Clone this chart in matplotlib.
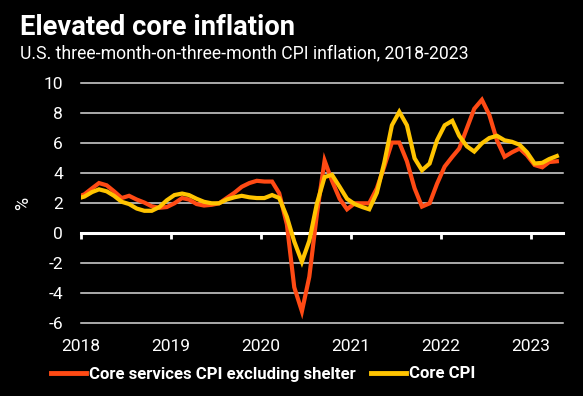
import matplotlib
matplotlib.use("Agg")
import matplotlib.pyplot as plt
from matplotlib.lines import Line2D
import pandas as pd

# Monthly observations, Dec 2017 - Apr 2023 (plotted mid-month)
months = pd.date_range("2017-12-01", "2023-04-01", freq="MS") + pd.Timedelta(days=14)

core_services_ex_shelter = [
    2.4, 2.6, 3.0, 3.35, 3.2, 2.8, 2.35, 2.5, 2.25, 2.05, 1.8, 1.7, 1.75,
    2.0, 2.35, 2.25, 1.95, 1.85, 1.9, 2.0, 2.35, 2.7, 3.1, 3.35, 3.5,
    3.45, 3.45, 2.67, 0.6, -3.6, -5.2, -2.9, 1.3, 4.85, 3.5, 2.3, 1.6,
    2.0, 2.0, 2.0, 3.0, 4.45, 6.05, 6.05, 4.8, 3.0, 1.78, 2.0, 3.3,
    4.45, 5.1, 5.65, 7.0, 8.3, 8.9, 7.9, 6.2, 5.1, 5.4, 5.65, 5.2,
    4.55, 4.4, 4.75, 4.8,
]
core_cpi = [
    2.3, 2.45, 2.75, 2.93, 2.8, 2.5, 2.1, 1.95, 1.65, 1.5, 1.5, 1.75, 2.2,
    2.55, 2.65, 2.55, 2.3, 2.1, 2.0, 2.0, 2.25, 2.4, 2.5, 2.4, 2.35,
    2.35, 2.55, 2.35, 1.1, -0.55, -1.9, -0.5, 2.0, 3.75, 3.9, 3.1, 2.3,
    1.95, 1.75, 1.6, 2.7, 4.7, 7.2, 8.1, 7.2, 5.0, 4.2, 4.65, 6.2,
    7.2, 7.5, 6.5, 5.8, 5.45, 6.0, 6.35, 6.5, 6.2, 6.1, 5.9, 5.4,
    4.65, 4.7, 4.95, 5.15,
]

y_ticks = [-6, -4, -2, 0, 2, 4, 6, 8, 10]
x_ticks = pd.to_datetime(["2018-01-01", "2019-01-01", "2020-01-01",
                          "2021-01-01", "2022-01-01", "2023-01-01"])
x_labels = ["2018", "2019", "2020", "2021", "2022", "2023"]

title = "Elevated core inflation"
subtitle = "U.S. three-month-on-three-month CPI inflation, 2018-2023"
labels = ["Core services CPI excluding shelter", "Core CPI"]
ORANGE = "#FF4A14"
YELLOW = "#FFC400"

plt.rcParams["font.family"] = ["Roboto", "DejaVu Sans"]

fig = plt.figure(figsize=(5.83, 3.96), dpi=100, facecolor="black")
ax = fig.add_axes([81 / 583, 72.7 / 396, 482 / 583, 240 / 396])
ax.set_facecolor("black")

# gridlines
for yv in y_ticks:
    if yv == 0:
        continue
    ax.axhline(yv, color="#d9d9d9", lw=1.1, zorder=1, clip_on=False)
ax.axhline(0, color="white", lw=2.2, zorder=1, clip_on=False)
ax.vlines(x_ticks, -0.4, 0, color="white", lw=2, zorder=1, clip_on=False)

ax.plot(months, core_services_ex_shelter, color=ORANGE, lw=3, zorder=3,
        solid_joinstyle="miter")
ax.plot(months, core_cpi, color=YELLOW, lw=3, zorder=4,
        solid_joinstyle="miter")

ax.set_xlim(pd.Timestamp("2018-01-01"), pd.Timestamp("2023-05-10"))
ax.set_ylim(-6, 10)
ax.set_yticks(y_ticks)
ax.set_yticklabels([str(v) for v in y_ticks])
ax.set_xticks(x_ticks)
ax.set_xticklabels(x_labels)
ax.tick_params(axis="both", length=0, colors="white", labelsize=12.5)
ax.tick_params(axis="y", pad=13)
ax.tick_params(axis="x", pad=11)
for s in ax.spines.values():
    s.set_visible(False)

ax.set_ylabel("%", color="white", fontsize=13, labelpad=8)

fig.text(20 / 583, 1 - 35 / 396, title, color="white", fontsize=19.7,
         fontweight="bold", ha="left", va="baseline")
fig.text(20 / 583, 1 - 58 / 396, subtitle, color="white", fontsize=12.7,
         ha="left", va="baseline")

handles = [Line2D([], [], color=ORANGE, lw=3.5),
           Line2D([], [], color=YELLOW, lw=3.5)]
leg = fig.legend(handles, labels, loc="center left",
                 bbox_to_anchor=(36 / 583, 1 - 374 / 396),
                 ncol=2, frameon=False, handlelength=2.1, handletextpad=0.15,
                 columnspacing=0.9, prop={"weight": "bold", "size": 12.1})
for t in leg.get_texts():
    t.set_color("white")

fig.savefig("out.png", dpi=100, facecolor="black")
